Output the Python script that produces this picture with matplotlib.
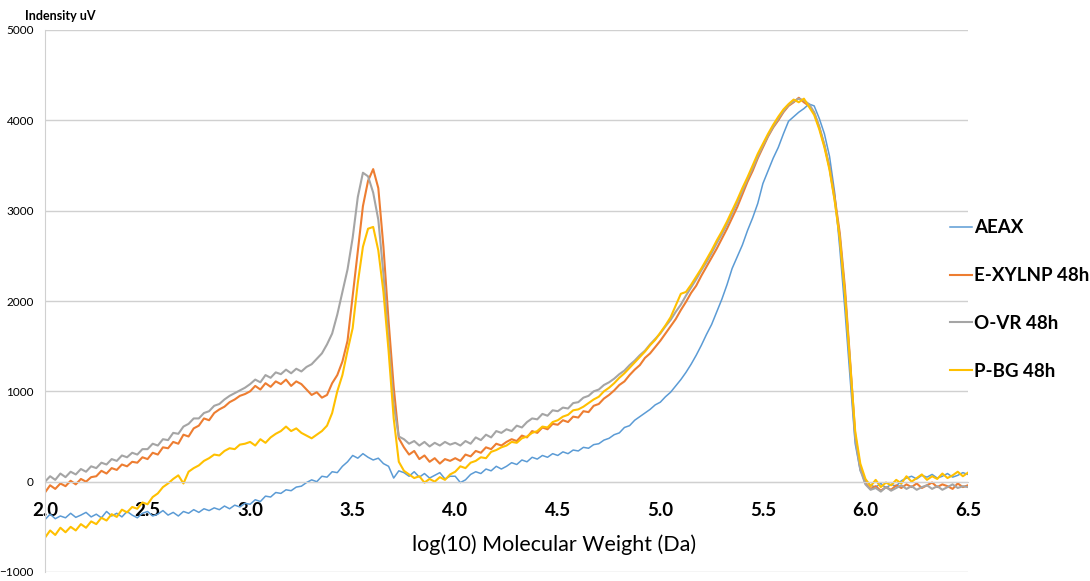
import numpy as np
import matplotlib.pyplot as plt

plt.rcParams['font.family'] = ['Lato', 'DejaVu Sans']

# log10 molecular weight grid, 0.025 steps from 2.0 to 6.5
mw = np.round(np.arange(2.0, 6.5001, 0.025), 3)

aeax = [
    -420, -360, -410, -380, -400, -350, -395, -370, -340, -390,
    -360, -400, -330, -380, -350, -390, -330, -370, -400, -350,
    -330, -380, -360, -320, -370, -340, -380, -330, -350, -310,
    -340, -300, -320, -290, -310, -270, -300, -260, -280, -240,
    -250, -200, -220, -160, -170, -120, -130, -90, -100, -60,
    -50, -10, 20, 0, 60, 50, 110, 100, 170, 220,
    290, 260, 310, 270, 240, 260, 200, 170, 40, 120,
    100, 60, 110, 50, 90, 40, 70, 100, 30, 60,
    60, -10, 20, 80, 110, 90, 140, 120, 170, 140,
    170, 210, 190, 240, 220, 270, 250, 290, 270, 310,
    290, 330, 310, 350, 340, 380, 370, 410, 420, 460,
    480, 520, 540, 600, 620, 680, 720, 760, 800, 850,
    880, 940, 990, 1060, 1130, 1210, 1300, 1400, 1510, 1630,
    1740, 1880, 2020, 2180, 2360, 2490, 2620, 2780, 2920, 3080,
    3300, 3440, 3580, 3700, 3850, 3990, 4040, 4090, 4130, 4180,
    4160, 4020, 3850, 3600, 3200, 2580, 1900, 1150, 420, 120,
    20, -40, -60, -20, -70, -30, -50, 10, 40, 60,
    30, 70, 50, 80, 40, 60, 90, 50, 70, 100,
    80,
]

e_xylnp = [
    -120, -40, -80, -20, -50, 10, -30, 30, 0, 50,
    60, 120, 90, 150, 130, 190, 170, 220, 210, 270,
    250, 320, 300, 380, 370, 440, 420, 520, 500, 590,
    620, 700, 680, 760, 800, 830, 880, 910, 950, 970,
    1000, 1060, 1020, 1090, 1050, 1110, 1080, 1130, 1060, 1110,
    1080, 1020, 960, 990, 930, 960, 1090, 1180, 1330, 1560,
    2050, 2550, 3050, 3330, 3460, 3250, 2600, 1780, 1050, 480,
    380, 300, 340, 250, 290, 220, 260, 200, 250, 230,
    260, 230, 300, 280, 340, 320, 380, 360, 420, 400,
    440, 470, 450, 510, 490, 560, 540, 600, 580, 640,
    630, 680, 660, 720, 710, 780, 770, 840, 860, 920,
    960, 1010, 1070, 1110, 1180, 1240, 1290, 1370, 1420, 1490,
    1560, 1640, 1720, 1800, 1900, 1990, 2090, 2170, 2280, 2380,
    2480, 2580, 2690, 2800, 2920, 3040, 3180, 3320, 3440, 3580,
    3700, 3820, 3920, 4000, 4090, 4160, 4200, 4250, 4200, 4160,
    4080, 3920, 3720, 3480, 3150, 2750, 2150, 1350, 520, 150,
    -20, -80, -50, -100, -60, -90, -40, -70, -30, -60,
    -20, -70, -40, -10, -60, -30, -50, -80, -20, -60,
    -40,
]

o_vr = [
    0, 60, 20, 90, 50, 110, 80, 140, 110, 170,
    150, 210, 190, 250, 230, 290, 270, 320, 300, 360,
    360, 420, 400, 470, 460, 540, 530, 610, 640, 700,
    700, 760, 780, 840, 860, 910, 950, 980, 1010, 1040,
    1080, 1130, 1100, 1180, 1150, 1210, 1190, 1240, 1200, 1250,
    1220, 1270, 1300, 1360, 1420, 1520, 1640, 1850, 2100, 2350,
    2700, 3150, 3420, 3380, 3200, 2900, 2300, 1550, 850, 500,
    470, 420, 450, 400, 440, 390, 430, 400, 440, 410,
    430, 400, 450, 420, 490, 460, 520, 490, 560, 540,
    580, 560, 620, 600, 660, 700, 690, 750, 730, 790,
    780, 820, 810, 870, 880, 930, 950, 1000, 1020, 1070,
    1100, 1140, 1190, 1230, 1290, 1340, 1400, 1450, 1520, 1580,
    1640, 1720, 1790, 1880, 1960, 2060, 2150, 2240, 2340, 2430,
    2530, 2640, 2740, 2850, 2970, 3090, 3220, 3350, 3470, 3600,
    3720, 3830, 3930, 4020, 4100, 4170, 4210, 4240, 4220, 4180,
    4090, 3930, 3730, 3470, 3120, 2700, 2080, 1300, 480, 130,
    -30, -90, -70, -110, -60, -100, -70, -40, -80, -50,
    -90, -60, -40, -80, -50, -90, -60, -30, -70, -50,
    -60,
]

p_bg = [
    -620, -540, -590, -510, -560, -500, -540, -470, -510, -440,
    -470, -400, -430, -360, -390, -310, -340, -280, -300, -230,
    -250, -170, -130, -60, -20, 30, 70, -20, 110, 150,
    180, 230, 260, 300, 290, 340, 370, 360, 410, 420,
    440, 400, 470, 430, 490, 530, 560, 610, 560, 590,
    540, 510, 480, 520, 560, 620, 760, 1000, 1180, 1450,
    1700, 2200, 2600, 2800, 2820, 2560, 2100, 1450, 700, 220,
    120, 80, 40, 60, -10, 30, 0, 50, 20, 80,
    110, 170, 150, 210, 230, 270, 260, 330, 350, 380,
    400, 440, 430, 480, 500, 540, 560, 610, 600, 660,
    680, 720, 740, 790, 800, 830, 870, 910, 940, 1000,
    1040, 1090, 1150, 1200, 1260, 1320, 1380, 1440, 1510, 1570,
    1650, 1730, 1820, 1950, 2080, 2100, 2180, 2270, 2360, 2460,
    2560, 2670, 2770, 2880, 3000, 3120, 3250, 3370, 3500, 3630,
    3740, 3850, 3950, 4040, 4120, 4180, 4230, 4200, 4240, 4150,
    4060, 3900, 3700, 3450, 3110, 2690, 2070, 1320, 560, 200,
    30, -50, 20, -60, -10, -40, 20, -20, 60, 0,
    40, 80, 20, 60, 30, 90, 40, 70, 110, 60,
    100,
]

names = ['AEAX', 'E-XYLNP 48h', 'O-VR 48h', 'P-BG 48h']
colors = ['#5B9BD5', '#ED7D31', '#A5A5A5', '#FFC000']
xticks = [2.0, 2.5, 3.0, 3.5, 4.0, 4.5, 5.0, 5.5, 6.0, 6.5]
yticks = [-1000, 0, 1000, 2000, 3000, 4000, 5000]

fig = plt.figure(figsize=(10.9, 5.81), dpi=100)
ax = fig.add_axes([45 / 1090, 9 / 581, 923 / 1090, 542 / 581])

for ys, name, c, lw in zip([aeax, e_xylnp, o_vr, p_bg], names, colors, [1.1, 1.5, 1.5, 1.5]):
    ax.plot(mw, ys, color=c, lw=lw, label=name)

# spine position first: it resets the tick objects
for s in ['top', 'right']:
    ax.spines[s].set_visible(False)
ax.spines['left'].set_color('#D0D0D0')
ax.spines['bottom'].set_position(('data', 0))
ax.spines['bottom'].set_color('#D0D0D0')

ax.set_xlim(2.0, 6.5)
ax.set_ylim(-1000, 5000)
ax.set_yticks(yticks)
ax.set_xticks(xticks)
ax.set_xticklabels(['%.1f' % t for t in xticks])
ax.tick_params(axis='y', length=0, labelsize=8.5, pad=8)
ax.tick_params(axis='x', length=0, pad=14.5, labelsize=13.5)
for t in ax.get_xticklabels():
    t.set_fontweight('bold')
ax.grid(axis='y', color='#D0D0D0', lw=1)
ax.set_axisbelow(True)

fig.text(412 / 1090, 1 - 545 / 581, 'log(10) Molecular Weight (Da)', fontsize=15.5,
         va='center', ha='left')
fig.text(25 / 1090, 1 - 16 / 581, 'Indensity uV', fontsize=9, fontweight='bold',
         va='center', ha='left')

ax.legend(loc='center left', bbox_to_anchor=(950 / 1090, 1 - 299.5 / 581),
          bbox_transform=fig.transFigure, frameon=False, borderpad=0,
          borderaxespad=0, handlelength=1.15, handletextpad=0.15,
          labelspacing=1.64, prop={'size': 13.5, 'weight': 'bold'})

fig.savefig('out.png', dpi=100)
